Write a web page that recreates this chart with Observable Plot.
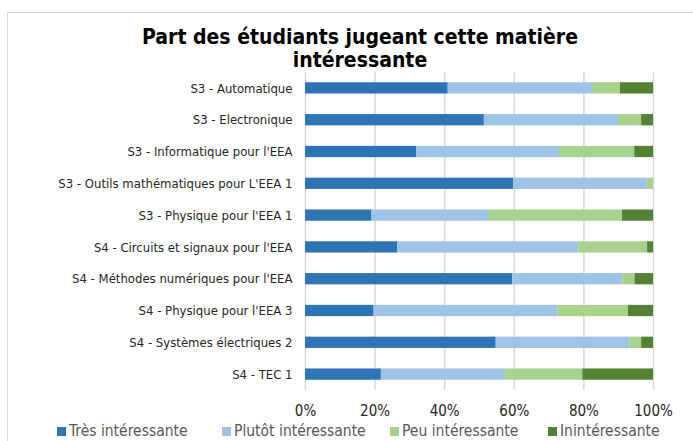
<!DOCTYPE html>
<html>
<head>
<meta charset="utf-8">
<script src="https://cdn.jsdelivr.net/npm/d3@7"></script>
<script src="https://cdn.jsdelivr.net/npm/@observablehq/plot@0.6"></script>
<style>
  body { margin: 0; background: #fff; }
  #wrap { position: relative; width: 693px; height: 441px; overflow: hidden; font-family: "DejaVu Sans Condensed", "DejaVu Sans", sans-serif; font-stretch: condensed; }
  #frame { position: absolute; left: 7px; top: 12px; width: 720px; height: 460px; border: 1px solid #D9D9D9; box-sizing: border-box; }
  #title { position: absolute; left: 0; width: 720px; top: 26px; text-align: center; font-weight: bold; font-size: 21px; line-height: 23px; color: #000; }
  #chart { position: absolute; left: 0; top: 60px; }
  #legend { position: absolute; left: 0; top: 422px; width: 693px; height: 19px; font-size: 15.5px; line-height: 18px; color: #595959; white-space: nowrap; }
  .item { position: absolute; top: 0; display: flex; align-items: center; gap: 3px; }
  .sw { width: 9px; height: 9px; display: inline-block; }
</style>
</head>
<body>
<div id="wrap">
  <div id="frame"></div>
  <div id="chart"></div>
  <div id="title">Part des étudiants jugeant cette matière<br>intéressante</div>
  <div id="legend"></div>
</div>
<script>
const categories = [
  "S3 - Automatique",
  "S3 - Electronique",
  "S3 - Informatique pour l'EEA",
  "S3 - Outils mathématiques pour L'EEA 1",
  "S3 - Physique pour l'EEA 1",
  "S4 - Circuits et signaux pour l'EEA",
  "S4 - Méthodes numériques pour l'EEA",
  "S4 - Physique pour l'EEA 3",
  "S4 - Systèmes électriques 2",
  "S4 - TEC 1"
];
const seriesNames = ["Très intéressante", "Plutôt intéressante", "Peu intéressante", "Inintéressante"];
const seriesColors = ["#2E75B6", "#9DC3E6", "#A9D18E", "#548235"];
const tres   = [41.0, 51.4, 32.0, 59.9, 19.1, 26.5, 59.5, 19.7, 54.8, 21.8];
const plutot = [41.5, 38.5, 41.0, 38.3, 33.5, 52.0, 31.7, 52.9, 38.4, 35.7];
const peu    = [ 8.0,  6.7, 21.6,  1.8, 38.5, 19.8,  3.5, 20.2,  3.4, 22.2];
const inint  = [ 9.5,  3.4,  5.4,  0.0,  8.9,  1.7,  5.3,  7.2,  3.4, 20.3];
const xTicks = [0, 20, 40, 60, 80, 100];

const seriesValues = [tres, plutot, peu, inint];
const data = [];
seriesNames.forEach((s, si) => {
  categories.forEach((c, ci) => data.push({ category: c, series: s, value: seriesValues[si][ci] }));
});

const chart = Plot.plot({
  width: 693,
  height: 362,
  marginLeft: 305,
  marginRight: 40,
  marginTop: 12,
  marginBottom: 32,
  style: { fontFamily: '"DejaVu Sans Condensed", "DejaVu Sans", sans-serif', fontStretch: "condensed", background: "transparent" },
  x: { domain: [0, 100], ticks: xTicks, tickFormat: d => d + "%", tickSize: 0, tickPadding: 15, label: null },
  y: { domain: categories, paddingInner: 0.645, paddingOuter: 0.3225, round: false, tickSize: 0, tickPadding: 13, label: null },
  color: { domain: seriesNames, range: seriesColors },
  marks: [
    Plot.ruleX(xTicks, { stroke: "#D9D9D9", strokeWidth: 1.5 }),
    Plot.barX(data, Plot.stackX({ y: "category", x: "value", fill: "series", order: seriesNames })),
    Plot.axisX({ ticks: xTicks, tickFormat: d => d + "%", tickSize: 0, tickPadding: 15, fontSize: 15, fill: "#262626", label: null }),
    Plot.axisY({ tickSize: 0, tickPadding: 13, fontSize: 13, fill: "#262626", label: null })
  ]
});
document.getElementById("chart").appendChild(chart);

const legendLeft = [57, 222, 390, 548];
const legend = document.getElementById("legend");
seriesNames.forEach((s, i) => {
  const it = document.createElement("div");
  it.className = "item";
  it.style.left = legendLeft[i] + "px";
  const sw = document.createElement("span");
  sw.className = "sw";
  sw.style.background = seriesColors[i];
  const t = document.createElement("span");
  t.textContent = s;
  it.appendChild(sw);
  it.appendChild(t);
  legend.appendChild(it);
});
</script>
</body>
</html>
